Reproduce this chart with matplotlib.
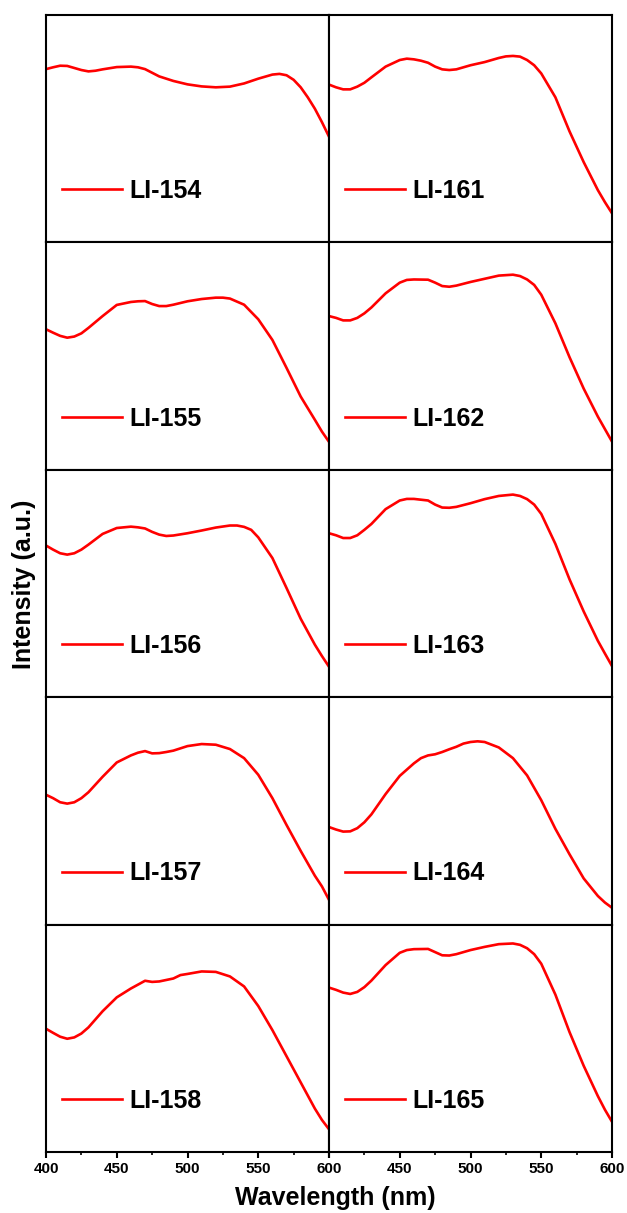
import matplotlib
matplotlib.use("Agg")
import matplotlib.pyplot as plt
from matplotlib.ticker import MultipleLocator

plt.rcParams['font.family'] = ['Liberation Sans', 'DejaVu Sans']
plt.rcParams['font.weight'] = 'bold'

# ---------------- data (normalised intensity, panel fraction) ----------------
wl_a = [400, 405, 410, 415, 420, 425, 430, 435, 440, 450, 460, 465, 470, 475, 480,
        490, 500, 510, 520, 530, 540, 550, 560, 565, 570, 575, 580, 585, 590, 595, 600]
li154 = [0.762, 0.770, 0.777, 0.776, 0.767, 0.758, 0.752, 0.755, 0.761, 0.771, 0.773,
         0.770, 0.762, 0.746, 0.730, 0.710, 0.695, 0.686, 0.682, 0.685, 0.699, 0.720,
         0.738, 0.741, 0.735, 0.715, 0.682, 0.638, 0.588, 0.529, 0.465]

wl_b = [400, 405, 410, 415, 420, 425, 430, 440, 450, 460, 465, 470, 475, 480, 485,
        490, 500, 510, 520, 525, 530, 540, 550, 560, 570, 580, 590, 595, 600]
li155 = [0.618, 0.603, 0.589, 0.581, 0.586, 0.600, 0.624, 0.676, 0.725, 0.738, 0.741,
         0.742, 0.729, 0.720, 0.720, 0.726, 0.741, 0.751, 0.757, 0.757, 0.753, 0.726,
         0.662, 0.571, 0.448, 0.322, 0.220, 0.168, 0.123]

wl_c = [400, 405, 410, 415, 420, 425, 430, 440, 450, 460, 465, 470, 475, 480, 485,
        490, 500, 510, 520, 530, 535, 540, 545, 550, 560, 570, 580, 590, 595, 600]
li156 = [0.667, 0.649, 0.633, 0.627, 0.633, 0.649, 0.671, 0.718, 0.744, 0.750, 0.747,
         0.742, 0.727, 0.715, 0.709, 0.711, 0.721, 0.733, 0.746, 0.755, 0.755, 0.749,
         0.736, 0.703, 0.612, 0.480, 0.345, 0.231, 0.181, 0.134]

wl_d = [400, 405, 410, 415, 420, 425, 430, 440, 450, 460, 465, 470, 475, 480, 485,
        490, 500, 510, 520, 530, 540, 550, 560, 570, 580, 590, 595, 600]
li157 = [0.571, 0.556, 0.538, 0.532, 0.538, 0.556, 0.582, 0.650, 0.713, 0.744, 0.756,
         0.763, 0.753, 0.754, 0.759, 0.765, 0.785, 0.794, 0.791, 0.772, 0.732, 0.659,
         0.556, 0.438, 0.324, 0.215, 0.168, 0.109]

wl_e = [400, 405, 410, 415, 420, 425, 430, 440, 450, 460, 465, 470, 475, 480, 490,
        495, 500, 510, 520, 530, 540, 550, 560, 570, 580, 590, 595, 600]
li158 = [0.542, 0.524, 0.507, 0.498, 0.504, 0.521, 0.548, 0.619, 0.680, 0.719, 0.736,
         0.753, 0.748, 0.750, 0.763, 0.778, 0.783, 0.794, 0.792, 0.772, 0.728, 0.642,
         0.536, 0.421, 0.306, 0.191, 0.141, 0.100]

wl_f = [400, 405, 410, 415, 420, 425, 430, 440, 450, 455, 460, 465, 470, 475, 480,
        485, 490, 500, 510, 520, 525, 530, 535, 540, 545, 550, 560, 570, 580, 590,
        595, 600]
li161 = [0.694, 0.682, 0.673, 0.673, 0.685, 0.702, 0.726, 0.773, 0.802, 0.808, 0.805,
         0.799, 0.790, 0.773, 0.761, 0.758, 0.761, 0.779, 0.793, 0.811, 0.818, 0.820,
         0.817, 0.802, 0.779, 0.743, 0.638, 0.488, 0.353, 0.230, 0.177, 0.128]

wl_g = [400, 405, 410, 415, 420, 425, 430, 440, 450, 455, 460, 470, 475, 480, 485,
        490, 500, 510, 520, 530, 535, 540, 545, 550, 560, 570, 580, 590, 595, 600]
li162 = [0.676, 0.668, 0.657, 0.657, 0.668, 0.688, 0.714, 0.776, 0.823, 0.835, 0.837,
         0.836, 0.823, 0.808, 0.805, 0.810, 0.826, 0.840, 0.854, 0.858, 0.852, 0.837,
         0.813, 0.770, 0.644, 0.495, 0.357, 0.234, 0.179, 0.124]
li163 = [0.721, 0.712, 0.700, 0.700, 0.712, 0.736, 0.762, 0.827, 0.865, 0.872, 0.872,
         0.865, 0.847, 0.834, 0.833, 0.837, 0.853, 0.871, 0.885, 0.891, 0.885, 0.871,
         0.847, 0.806, 0.674, 0.518, 0.377, 0.248, 0.192, 0.137]
li165 = [0.723, 0.713, 0.701, 0.695, 0.704, 0.725, 0.754, 0.822, 0.876, 0.888, 0.892,
         0.893, 0.879, 0.865, 0.864, 0.870, 0.888, 0.902, 0.914, 0.917, 0.911, 0.896,
         0.870, 0.828, 0.692, 0.527, 0.379, 0.246, 0.186, 0.133]

wl_h = [400, 405, 410, 415, 420, 425, 430, 440, 450, 460, 465, 470, 475, 480, 485,
        490, 495, 500, 505, 510, 520, 530, 540, 550, 560, 570, 580, 590, 595, 600]
li164 = [0.429, 0.418, 0.409, 0.410, 0.424, 0.450, 0.485, 0.574, 0.654, 0.709, 0.732,
         0.744, 0.749, 0.759, 0.771, 0.782, 0.796, 0.803, 0.806, 0.803, 0.779, 0.732,
         0.656, 0.547, 0.421, 0.309, 0.203, 0.126, 0.097, 0.074]

labels_left = ['LI-154', 'LI-155', 'LI-156', 'LI-157', 'LI-158']
labels_right = ['LI-161', 'LI-162', 'LI-163', 'LI-164', 'LI-165']
left_series = [(wl_a, li154), (wl_b, li155), (wl_c, li156), (wl_d, li157), (wl_e, li158)]
right_series = [(wl_f, li161), (wl_g, li162), (wl_g, li163), (wl_h, li164), (wl_g, li165)]
xticks = [400, 450, 500, 550, 600]

# ---------------- figure ----------------
fig, axes = plt.subplots(5, 2, figsize=(6.27, 12.13), dpi=100)
fig.subplots_adjust(left=46 / 627, right=612 / 627, top=1 - 15 / 1213,
                    bottom=1 - 1152 / 1213, hspace=0, wspace=0)

red = '#ff0000'
for col, (series, labels) in enumerate([(left_series, labels_left),
                                         (right_series, labels_right)]):
    for row in range(5):
        ax = axes[row, col]
        x, y = series[row]
        ax.plot(x, y, color=red, lw=1.9, label=labels[row],
                solid_joinstyle='round')
        ax.set_xlim(400, 600)
        ax.set_ylim(0, 1)
        ax.set_yticks([])
        for sp in ax.spines.values():
            sp.set_linewidth(1.5)
        ax.legend(loc='center left', bbox_to_anchor=(0.057, 0.225),
                  frameon=False, borderpad=0, borderaxespad=0,
                  handlelength=2.4, handletextpad=0.3,
                  prop={'family': 'Liberation Sans', 'weight': 'bold', 'size': 18})
        if row == 4:
            ax.set_xticks(xticks)
            ax.xaxis.set_minor_locator(MultipleLocator(25))
            ax.tick_params(axis='x', which='major', direction='out', length=4.5,
                           width=1.5, labelsize=11, pad=3)
            ax.tick_params(axis='x', which='minor', direction='out', length=2.5,
                           width=1.2)
            for lab in ax.get_xticklabels():
                lab.set_fontweight('bold')
            if col == 1:
                ax.set_xticklabels([''] + [str(t) for t in xticks[1:]])
        else:
            ax.set_xticks([])

fig.text(335 / 627, 1 - 1198 / 1213, 'Wavelength (nm)', ha='center', va='center',
         fontsize=18, fontweight='bold')
fig.text(24 / 627, 1 - 584 / 1213, 'Intensity (a.u.)', ha='center', va='center',
         rotation=90, fontsize=18, fontweight='bold')

fig.savefig('out.png', dpi=100)
